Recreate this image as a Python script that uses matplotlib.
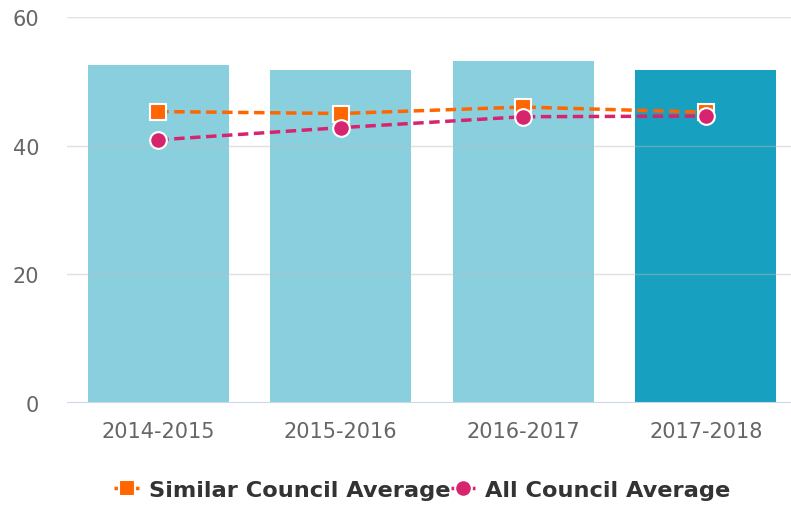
import matplotlib.pyplot as plt
import numpy as np

plt.rcParams['font.family'] = ['DejaVu Sans']

years = ['2014-2015', '2015-2016', '2016-2017', '2017-2018']
council = [52.6, 51.7, 53.1, 51.7]
similar_avg = [45.3, 45.0, 46.0, 45.2]
all_avg = [40.9, 42.8, 44.5, 44.6]

bar_colors = ['#8ACFDE', '#8ACFDE', '#8ACFDE', '#17A0BF']
orange = '#FF6600'
pink = '#D6246E'

fig = plt.figure(figsize=(7.91, 5.06), dpi=100)
ax = fig.add_axes([67 / 791, 102 / 506, 730 / 791, 386 / 506])

x = np.arange(len(years))
ax.bar(x, council, width=0.775, color=bar_colors, zorder=1)

# gridlines sit on top of the bars, faint
for v in [20, 40, 60]:
    ax.axhline(v, color='#BBBBBB', lw=1, alpha=0.45, zorder=2)
ax.axhline(0, color='#CCD6EB', lw=1.5, zorder=3)

ax.plot(x, similar_avg, color=orange, lw=2.5, ls=(0, (3, 1.6)), marker='s',
        ms=12, mfc=orange, mec='white', mew=1.5, zorder=4,
        label='Similar Council Average')
ax.plot(x, all_avg, color=pink, lw=2.5, ls=(0, (3, 1.6)), marker='o',
        ms=12, mfc=pink, mec='white', mew=1.5, zorder=5,
        label='All Council Average')

ax.set_xlim(-0.5, 3.5)
ax.set_ylim(0, 60)
ax.set_yticks([0, 20, 40, 60])
ax.set_xticks(x)
ax.set_xticklabels(years)
for s in ax.spines.values():
    s.set_visible(False)
ax.tick_params(axis='both', length=0, labelsize=15, labelcolor='#666666')
ax.tick_params(axis='y', pad=20)
ax.tick_params(axis='x', pad=13)

leg = fig.legend(loc='center', bbox_to_anchor=(0.534, 0.03), ncol=2, frameon=False,
                 handlelength=1.1, handletextpad=0.45, columnspacing=0.0,
                 prop={'size': 16.2, 'weight': 'bold'})
for t in leg.get_texts():
    t.set_color('#333333')

fig.savefig('out.png', dpi=100)
